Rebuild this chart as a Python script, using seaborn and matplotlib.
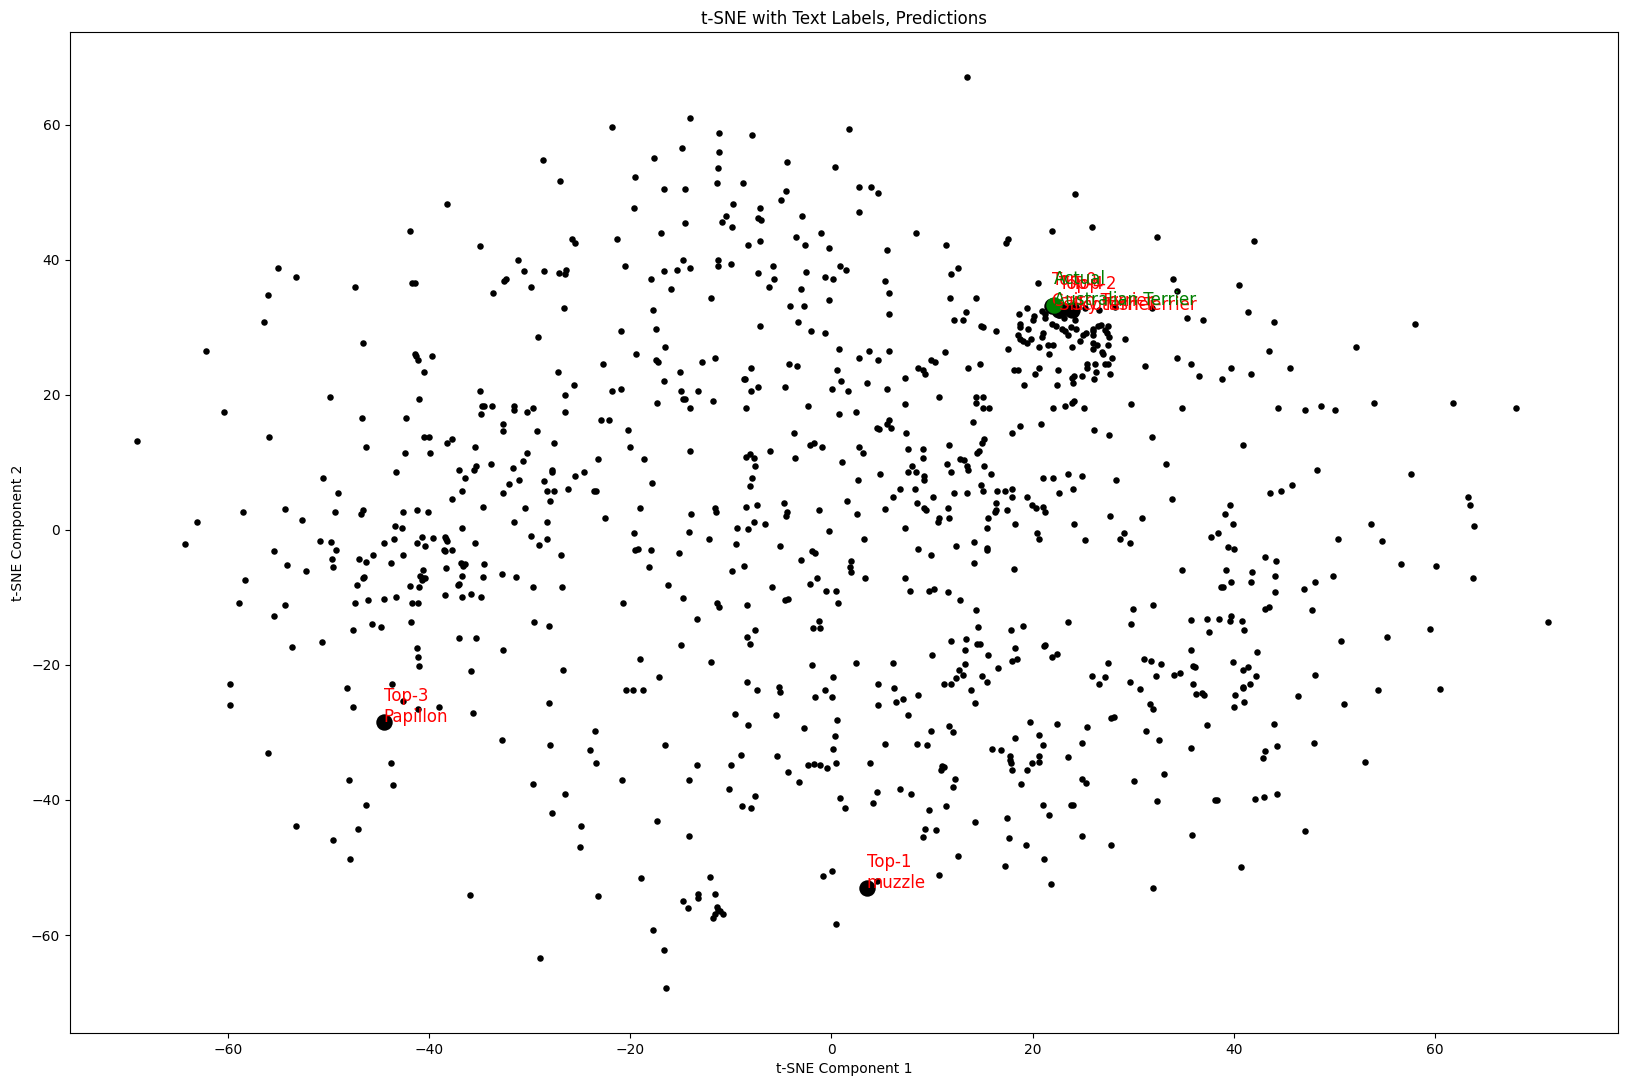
import pandas as pd
import seaborn as sns
import matplotlib
matplotlib.use("Agg")
import matplotlib.pyplot as plt

# t-SNE coordinates, by quadrant
upper_left = [
    (-14.1,60.9),(-21.8,59.7),(-11.2,58.8),(-7.9,58.4),(1.7,59.4),(-14.9,56.5),(-11.2,56.0),(-17.6,55.0),
    (-28.7,54.7),(-4.4,54.5),(-11.3,53.5),(0.4,53.7),(-19.5,52.3),(-27.0,51.7),(-11.4,51.4),(-8.8,51.4),
    (-16.6,50.4),(-14.6,50.5),(-4.5,50.1),(-5.0,48.9),(-38.2,48.2),(-9.8,48.3),(-19.6,47.6),(-7.1,47.7),
    (-10.5,46.4),(-2.9,46.5),(-7.3,46.1),(-7.0,45.8),(-10.9,45.5),(-14.6,45.4),(-9.9,44.9),(-41.9,44.2),
    (-16.9,44.0),(-1.0,44.0),(-3.5,43.4),(-25.8,43.1),(-21.3,43.0),(-7.1,42.8),(-25.5,42.4),(-8.3,42.1),
    (-2.6,42.2),(-34.9,42.0),(-0.2,41.7),(-31.2,40.0),(-14.8,39.9),(-11.3,40.0),(-10.0,39.3),(-11.3,39.0),
    (-20.5,39.0),(-14.1,38.7),(-5.8,39.0),(0.9,39.1),(1.4,38.4),(-55.0,38.8),(-30.6,38.3),(-28.6,38.3),
    (-26.4,38.5),(-27.1,38.0),(-26.5,37.8),(-16.6,38.3),(-15.4,38.4),(-7.3,38.0),(-2.5,38.1),(-53.2,37.5),
    (-0.6,37.4),(0.2,37.1),(-17.9,37.1),(-5.7,37.1),(-32.4,37.1),(-32.6,36.8),(-41.7,36.5),(-41.4,36.5),
    (-47.4,35.9),(-6.2,35.9),(-3.0,35.7),(-15.9,35.7),(-29.9,36.0),(-33.6,35.1),(-56.0,34.7),(-12.0,34.3),
    (-0.2,34.0),(-26.6,32.9),(-4.1,33.1),(-2.7,33.1),(-17.7,32.5),(-56.4,30.7),(-3.3,30.8),(-7.1,30.2),
    (-17.4,29.8),(-20.9,29.5),(-2.0,29.5),(-0.6,29.2),(-29.2,28.5),(-46.6,27.6),(-16.5,27.0),(0.8,26.8),
    (-62.2,26.4),(-41.4,26.1),(-41.3,25.8),(-39.7,25.7),(-41.1,25.2),(-19.4,26.1),(-17.4,25.1),(-17.2,24.8),
    (-11.6,25.4),(-12.9,24.9),(-22.7,24.5),(-4.2,24.5),(-3.4,24.3),(-8.0,23.9),(0.6,23.7),(-27.2,23.3),
    (-15.1,23.4),(-40.5,23.4),(-8.7,22.4),(-8.6,22.3),(-16.6,22.1),(1.0,22.1),(-25.6,21.4),(-7.3,21.1),
    (-4.6,21.2),(-21.8,20.6),(-20.9,20.8),(-34.9,20.5),(-15.0,20.5),(-13.3,20.6),(-8.0,20.5),(0.1,20.8),
    (1.6,20.5),(-26.5,20.0),(-49.9,19.7),(-41.0,19.3),(-14.8,19.4),(-14.6,19.3),(-17.3,18.8),(-11.8,19.1),
    (-34.7,18.3),(-34.5,18.3),(-33.7,18.4),(-31.6,18.3),(-31.6,17.8),(-29.7,18.1),(-30.3,17.5),(-34.8,17.2),
    (-26.5,17.4),(-14.1,18.1),(-8.5,18.0),(-2.3,18.4),(0.8,17.1),(-60.4,17.5),(-46.7,16.6),(-42.3,16.5),
    (-22.9,16.3),(-22.1,16.2),(-32.7,15.6),(-32.7,14.7),(-29.3,14.7),(-20.2,14.8),(-3.7,14.3),(-69.0,13.1),
    (-55.9,13.7),(-40.5,13.7),(-40.0,13.7),(-37.7,13.4),(-38.2,12.8),(-27.6,12.9),(-46.3,12.2),(-35.4,12.3),
    (-20.0,12.2),(-2.1,12.5),(-1.7,12.8),(-0.9,12.2),(-42.4,11.4),(-39.9,11.3),(-30.3,11.4),(-14.1,11.6),
    (-6.1,11.6),(-8.5,10.8),(-8.1,11.2),(-7.7,10.7),(-3.6,10.7),(-23.2,10.5),(-18.6,10.5),(-30.7,10.2),
    (-33.8,9.7),(-31.7,9.2),(1.1,10.0),(-7.6,9.5),(-35.3,9.4),(-35.5,8.8),(-37.0,8.8),(-43.3,8.6),
    (-27.8,8.8),(-27.8,8.5),(-24.6,8.6),(-25.5,7.9),(-36.4,7.6),(-50.5,7.6),(-31.1,7.4),(-28.6,7.2),
    (-17.8,7.0),(-7.9,7.6),(-32.1,6.8),(-8.1,6.5),(-49.1,5.4),(-36.7,5.8),(-32.7,5.5),(-28.3,5.7),
    (-27.6,5.8),(-26.2,6.0),(-23.6,5.7),(-23.4,5.8),(-37.7,4.6),(-28.0,4.2),(1.5,4.2),(-34.6,3.4),
    (-30.5,3.3),(-19.0,3.3),(-11.6,3.3),(-8.5,3.4),(-7.4,3.7),(-4.7,4.0),(-11.5,2.6),(-4.4,2.7),
    (-4.5,2.1),(-1.2,2.9),(-14.0,2.3),(-58.5,2.7),(-54.3,3.1),(-49.4,2.7),(-46.6,2.9),(-46.8,2.4),
    (-42.6,2.6),(-41.2,3.0),(-40.1,2.7),(-63.1,1.2),(-52.6,1.4),(-31.6,1.1),(-28.3,1.2),(-22.5,1.7),
    (-7.7,1.2),(-6.6,0.8),(-43.4,0.6),(-42.7,0.2),(-36.7,0.3),(-9.4,0.3),(-8.3,0.1),
]

upper_right = [
    (13.5,67.0),(2.7,50.8),(3.9,50.7),(4.6,49.8),(24.2,49.7),(2.7,47.1),(25.9,44.8),(8.4,44.0),
    (21.9,44.2),(32.4,43.3),(42.0,42.7),(17.6,43.1),(17.4,42.5),(11.4,42.1),(5.5,41.4),(12.6,38.8),
    (11.9,37.8),(5.3,36.8),(20.5,36.6),(34.0,37.1),(40.5,36.3),(34.4,35.4),(5.7,35.1),(11.8,34.3),
    (14.4,34.3),(26.6,32.6),(31.9,32.8),(28.2,33.0),(13.4,32.3),(19.4,32.8),(18.6,32.0),(20.1,31.7),
    (21.2,31.9),(21.2,31.4),(5.7,32.0),(41.4,32.2),(35.4,31.4),(36.9,31.1),(12.2,31.0),(13.1,31.1),
    (20.0,31.0),(23.1,31.3),(24.2,31.1),(44.0,30.8),(58.0,30.4),(14.9,30.1),(15.1,30.0),(18.7,30.4),
    (18.7,30.0),(19.5,29.8),(21.9,30.4),(22.3,30.1),(23.8,30.0),(24.3,29.7),(22.9,29.7),(23.2,29.4),
    (23.5,28.9),(16.4,29.4),(26.0,29.8),(26.5,30.1),(26.8,30.3),(27.5,30.1),(25.0,28.9),(25.3,29.2),
    (26.0,29.4),(26.0,28.9),(27.2,29.6),(27.4,29.1),(27.6,28.5),(18.5,28.9),(21.0,29.1),(20.9,28.6),
    (29.2,28.3),(18.7,28.2),(19.0,28.0),(19.4,27.6),(19.8,28.2),(24.7,27.9),(21.5,27.4),(22.0,27.3),
    (20.6,27.1),(23.9,27.1),(17.6,26.8),(26.0,27.6),(26.4,27.3),(26.0,26.8),(27.5,27.3),(11.3,26.3),
    (5.7,26.4),(3.7,26.4),(2.7,25.4),(4.6,25.2),(9.9,25.2),(10.3,24.9),(26.9,26.3),(21.6,26.0),
    (27.0,26.0),(27.9,25.4),(52.2,27.0),(43.5,26.5),(34.4,25.5),(35.7,24.5),(39.7,24.0),(31.2,24.3),
    (26.2,24.6),(25.4,24.5),(25.4,24.0),(27.2,24.5),(27.5,24.5),(14.8,24.5),(13.6,23.9),(8.6,23.9),
    (9.1,23.7),(9.3,23.0),(18.2,23.6),(18.5,23.6),(20.6,23.9),(22.5,23.6),(20.2,23.0),(26.3,23.3),
    (27.7,23.0),(24.9,22.8),(23.9,22.5),(24.1,22.7),(26.1,22.4),(7.3,22.5),(41.7,23.0),(36.5,22.7),
    (38.8,22.3),(45.6,23.9),(24.0,21.8),(3.5,21.8),(22.4,21.5),(19.1,21.4),(5.5,20.9),(10.7,19.6),
    (14.4,19.6),(15.1,19.6),(14.4,18.7),(7.3,18.6),(2.4,17.4),(15.1,18.0),(15.7,18.0),(22.0,18.1),
    (23.2,18.3),(23.9,18.7),(24.1,19.1),(25.1,18.0),(29.8,18.6),(34.9,18.1),(44.4,18.1),(47.1,17.7),
    (48.7,18.4),(50.1,17.8),(53.9,18.8),(61.8,18.8),(68.1,18.0),(5.7,16.3),(5.5,15.7),(5.9,15.1),
    (4.5,15.1),(4.7,14.9),(7.4,14.4),(14.1,16.0),(18.7,15.3),(18.0,14.4),(20.8,15.6),(26.1,14.8),
    (27.6,14.0),(31.9,13.8),(40.9,12.6),(15.2,13.5),(15.0,12.9),(11.7,12.5),(2.7,12.3),(3.1,11.3),
    (7.6,12.0),(9.1,12.0),(9.1,10.7),(14.5,11.4),(14.7,11.6),(12.8,10.5),(13.2,10.3),(11.5,9.7),
    (13.5,9.5),(13.6,8.8),(8.0,9.5),(15.2,9.5),(7.6,8.6),(8.4,8.6),(4.8,8.3),(11.9,8.6),
    (15.9,8.2),(9.2,8.0),(9.2,7.3),(2.6,7.4),(21.0,7.7),(22.0,7.7),(23.5,8.2),(24.9,8.0),
    (28.3,7.3),(33.3,9.8),(48.3,8.9),(57.6,8.3),(45.8,6.7),(44.7,5.8),(43.6,5.4),(63.3,4.9),
    (63.5,3.6),(63.9,0.5),(33.9,4.6),(39.6,3.6),(39.1,2.3),(39.9,0.9),(53.6,0.9),(30.9,1.7),
    (27.7,2.0),(24.1,0.9),(6.8,6.1),(8.3,6.0),(6.1,4.8),(10.1,4.9),(12.2,5.5),(13.5,5.4),
    (14.9,6.7),(15.1,5.7),(16.5,5.7),(17.3,5.8),(18.0,6.1),(18.0,4.8),(19.4,4.9),(22.6,5.5),
    (24.0,6.0),(8.5,3.9),(9.2,3.3),(9.4,2.9),(5.3,3.1),(11.6,3.3),(16.4,3.9),(16.4,3.0),
    (16.3,2.7),(17.5,2.9),(19.9,3.6),(20.3,3.3),(21.0,3.4),(21.2,2.6),(2.5,2.3),(11.7,1.8),
    (10.7,1.7),(10.6,1.2),(15.6,1.7),(18.3,0.9),(7.3,0.3),(15.5,0.3),
]

lower_left = [
    (-0.2,-0.2),(-19.6,-0.4),(-14.2,-0.3),(-64.3,-2.1),(-50.8,-1.6),(-49.8,-1.8),(-49.3,-3.0),(-55.4,-3.1),
    (-49.7,-4.3),(-49.6,-5.5),(-54.1,-5.2),(-52.2,-6.1),(-58.3,-7.4),(-58.9,-10.8),(-54.3,-11.1),(-55.4,-12.7),
    (-53.6,-17.3),(-50.6,-16.6),(-47.6,-14.8),(-45.7,-13.9),(-44.8,-14.4),(-41.8,-13.6),(-47.4,-10.8),(-46.1,-10.4),
    (-44.5,-10.2),(-43.3,-9.9),(-41.7,-10.9),(-41.1,-10.9),(-47.2,-8.1),(-46.6,-7.2),(-46.5,-7.0),(-41.9,-8.3),
    (-41.0,-8.4),(-40.6,-7.2),(-40.9,-6.9),(-40.4,-7.2),(-40.7,-7.5),(-40.6,-5.9),(-43.8,-4.9),(-42.6,-3.8),
    (-45.6,-3.7),(-47.0,-4.3),(-46.3,-4.7),(-44.5,-1.9),(-43.5,-1.3),(-41.2,-1.9),(-40.7,-1.0),(-40.4,-2.4),
    (-39.6,-1.2),(-38.4,-1.0),(-38.3,-1.3),(-38.2,-1.6),(-37.7,-3.0),(-38.5,-3.0),(-38.4,-3.1),(-35.4,-1.9),
    (-36.8,-4.9),(-36.4,-5.0),(-36.6,-5.3),(-34.5,-5.0),(-38.3,-5.6),(-36.7,-6.8),(-34.6,-7.0),(-32.8,-6.5),
    (-31.4,-7.0),(-37.1,-8.1),(-37.0,-8.0),(-29.7,-8.4),(-26.8,-8.4),(-38.4,-9.6),(-35.8,-9.5),(-36.7,-9.9),
    (-34.8,-9.9),(-29.9,-0.9),(-28.3,-1.3),(-29.1,-2.2),(-26.9,-3.7),(-19.5,-3.0),(-19.2,-2.8),(-17.9,-3.0),
    (-15.2,-3.5),(-12.2,-1.3),(-9.5,-2.1),(-5.1,-2.4),(-18.1,-5.5),(-16.2,-8.1),(-14.8,-10.1),(-20.7,-10.9),
    (-11.4,-10.8),(-11.2,-11.4),(-8.4,-11.1),(-13.4,-13.2),(-9.9,-6.1),(-8.7,-5.3),(-3.0,-4.4),(-1.9,-3.1),
    (-1.6,-3.5),(-1.4,-7.1),(-2.1,-8.0),(-5.9,-8.4),(-4.6,-10.4),(-4.3,-10.2),(-0.5,-9.0),(0.5,-9.0),
    (0.7,-10.9),(-1.2,-13.5),(-1.8,-14.5),(-1.1,-14.5),(-7.6,-14.8),(-8.4,-15.8),(-8.1,-16.9),(-15.0,-17.0),
    (-29.6,-13.6),(-28.1,-14.2),(-37.0,-16.0),(-35.3,-16.0),(-32.7,-17.8),(-41.2,-17.5),(-41.1,-18.8),(-41.0,-20.1),
    (-35.8,-20.9),(-26.7,-20.7),(-19.0,-19.1),(-12.0,-19.5),(-1.9,-20.0),(0.2,-21.8),(-8.4,-22.5),(-17.1,-21.8),
    (-20.4,-23.7),(-19.7,-23.7),(-18.7,-23.7),(-7.4,-23.7),(-5.2,-23.2),(-5.1,-24.0),(-0.6,-23.7),(-1.6,-24.7),
    (0.1,-24.7),(-59.8,-22.9),(-59.8,-25.9),(-48.2,-23.4),(-43.7,-22.9),(-47.6,-26.2),(-42.6,-25.4),(-41.1,-26.6),
    (-39.0,-26.2),(-35.6,-27.1),(-28.1,-25.6),(-9.6,-27.2),(-5.5,-27.4),(-8.3,-28.9),(0.6,-28.1),(-2.7,-29.3),
    (0.4,-30.5),(-23.5,-29.8),(-32.8,-31.1),(-28.0,-31.8),(-16.5,-31.8),(0.2,-32.4),(-24.0,-32.6),(-56.0,-33.0),
    (-43.8,-34.5),(-23.4,-34.5),(-9.0,-33.3),(-5.4,-33.5),(-13.4,-34.8),(-10.0,-34.8),(-2.3,-34.8),(-1.7,-34.7),
    (-1.1,-34.8),(-0.4,-35.3),(0.5,-34.5),(-4.3,-35.8),(-3.2,-37.3),(-48.0,-37.0),(-43.6,-37.8),(-20.8,-37.0),
    (-14.2,-37.0),(-29.7,-37.6),(-10.2,-38.4),(-26.5,-39.1),(-7.6,-39.4),(0.9,-39.7),(-8.9,-40.9),(-8.0,-41.2),
    (1.3,-41.2),(-46.3,-40.7),(-27.8,-42.0),(-17.3,-43.1),(-53.2,-43.8),(-47.1,-44.3),(-24.9,-43.8),(-14.2,-45.3),
    (-49.6,-45.9),(-25.0,-46.9),(-47.9,-48.7),(0.1,-50.5),(-0.8,-51.2),(-18.9,-51.5),(-12.1,-51.4),(-35.9,-54.1),
    (-23.2,-54.2),(-13.3,-53.9),(-13.3,-54.5),(-11.6,-53.9),(-14.8,-54.9),(-14.3,-56.0),(-11.4,-55.9),(-11.3,-56.3),
    (-11.1,-56.4),(-10.8,-56.9),(-11.8,-57.4),(-11.6,-56.9),(0.5,-58.4),(-17.7,-59.2),(-16.6,-62.2),(-29.0,-63.4),
    (-16.4,-67.8),
]

lower_right = [
    (20.4,-0.4),(20.6,-1.3),(29.1,-0.4),(28.7,-1.3),(29.7,-1.9),(25.2,-1.5),(38.4,-0.4),(37.7,-1.0),
    (39.4,-2.5),(40.0,-2.8),(50.4,-1.3),(54.7,-1.6),(56.6,-5.0),(60.1,-5.3),(63.8,-7.1),(3.2,-1.3),
    (8.6,-2.8),(9.9,-3.8),(12.4,-2.4),(14.2,-1.8),(15.5,-2.7),(15.5,-3.0),(14.2,-4.9),(1.9,-4.6),
    (1.8,-5.5),(1.9,-6.2),(18.2,-5.8),(3.3,-7.2),(7.3,-7.1),(7.8,-9.0),(9.7,-9.0),(10.2,-8.7),
    (11.6,-9.2),(12.8,-10.4),(14.4,-11.8),(34.9,-5.9),(39.2,-5.9),(41.8,-6.2),(43.1,-4.1),(44.2,-4.6),
    (44.1,-6.8),(41.7,-7.8),(39.7,-7.8),(38.7,-8.4),(38.9,-8.4),(44.1,-9.2),(49.9,-6.9),(48.1,-7.8),
    (47.0,-8.7),(47.8,-11.8),(43.1,-11.7),(43.5,-11.4),(30.0,-11.7),(32.0,-11.1),(39.7,-12.7),(35.7,-13.3),
    (37.3,-13.2),(38.5,-13.2),(39.6,-13.5),(40.8,-13.5),(41.0,-14.9),(37.5,-15.2),(29.8,-13.9),(23.5,-13.6),
    (19.0,-14.2),(17.9,-14.9),(14.6,-14.4),(59.5,-14.7),(71.2,-13.6),(55.2,-15.8),(50.7,-16.4),(11.9,-16.4),
    (13.4,-16.1),(14.5,-16.9),(14.8,-16.9),(18.3,-17.5),(13.3,-17.8),(21.1,-17.2),(21.2,-17.0),(15.6,-18.5),
    (10.0,-18.6),(22.4,-18.4),(21.9,-18.8),(18.0,-19.4),(18.4,-19.2),(2.4,-19.7),(6.1,-19.7),(13.3,-19.8),
    (12.7,-20.7),(16.6,-20.4),(12.4,-21.9),(13.1,-21.5),(15.0,-21.6),(15.5,-22.5),(11.2,-22.8),(11.9,-22.8),
    (13.9,-23.7),(4.6,-22.8),(6.2,-23.4),(7.1,-25.0),(6.4,-25.5),(8.6,-24.4),(4.6,-25.9),(14.3,-25.6),
    (7.6,-27.4),(27.5,-19.7),(25.9,-21.6),(27.2,-21.8),(26.6,-22.8),(29.7,-22.5),(30.7,-23.5),(31.1,-19.2),
    (31.8,-19.4),(32.8,-19.8),(32.3,-21.6),(34.1,-21.5),(34.7,-21.2),(35.7,-17.8),(35.9,-20.1),(36.1,-20.3),
    (35.9,-22.9),(36.2,-24.3),(36.8,-24.1),(37.0,-24.4),(39.9,-19.5),(42.3,-18.1),(41.4,-20.3),(40.9,-20.7),
    (42.2,-21.6),(41.6,-22.9),(40.9,-23.2),(40.9,-23.4),(40.1,-24.4),(41.0,-25.5),(40.0,-26.2),(48.1,-21.5),
    (46.4,-24.6),(51.0,-25.8),(54.3,-23.7),(60.5,-23.5),(31.7,-25.8),(32.0,-26.6),(27.8,-27.8),(28.1,-27.7),
    (19.7,-28.4),(22.4,-28.7),(25.4,-29.2),(37.3,-28.9),(44.0,-28.7),(31.3,-29.8),(32.6,-31.1),(11.7,-29.0),
    (12.1,-29.9),(9.9,-29.8),(5.3,-31.7),(8.5,-31.7),(9.5,-31.8),(18.3,-30.8),(20.6,-30.4),(21.0,-31.8),
    (24.9,-31.5),(16.0,-32.4),(16.9,-32.6),(17.8,-33.5),(17.8,-34.1),(17.9,-34.5),(20.6,-33.5),(20.6,-34.4),
    (19.9,-34.5),(23.5,-33.6),(35.7,-32.3),(43.1,-32.7),(42.9,-33.8),(44.3,-32.0),(48.0,-31.5),(53.0,-34.4),
    (3.8,-34.5),(11.0,-35.0),(11.2,-35.1),(10.9,-35.5),(18.0,-35.5),(19.4,-35.5),(12.3,-36.9),(12.1,-38.1),
    (18.8,-37.6),(24.9,-36.9),(25.3,-37.5),(30.1,-37.2),(33.1,-36.1),(6.8,-38.4),(7.9,-39.1),(4.5,-38.8),
    (4.1,-40.4),(9.7,-41.5),(11.4,-40.9),(21.0,-40.7),(21.6,-42.2),(23.8,-40.7),(24.0,-40.7),(32.4,-40.1),
    (38.1,-40.0),(38.3,-40.0),(42.1,-39.8),(43.0,-39.5),(44.3,-39.1),(17.5,-42.7),(14.3,-43.2),(9.3,-44.3),
    (10.4,-44.4),(9.1,-45.5),(17.7,-45.6),(19.3,-46.6),(24.9,-45.3),(27.8,-46.6),(35.8,-45.2),(47.1,-44.6),
    (12.6,-48.3),(21.1,-48.7),(17.3,-49.8),(40.7,-49.9),(10.7,-51.1),(21.8,-52.4),(32.0,-53.0),(4.5,-52.0),
]

cluster_extra = [(23.2,32.2),(22.6,31.8),(24.2,31.9),(25.2,32.9),(20.9,32.4)]

# highlighted images
top_x = [3.5, 23.9, 22.6, 21.9, -44.5]
top_y = [-53.0, 32.6, 32.6, 33.1, -28.4]
top_labels = ["Top-1\nmuzzle", "Top-2\nScottish Terrier", "Top-4\nSilky Terrier", "Top-0\nCairn Terrier", "Top-3\nPapillon"]
actual_x = [22.1]
actual_y = [33.3]
actual_label = "Actual\nAustralian Terrier"

all_points = upper_left + upper_right + lower_left + lower_right + cluster_extra
df = pd.DataFrame(all_points, columns=["x", "y"])

fig, ax = plt.subplots(figsize=(16.28, 10.86), dpi=100)
sns.scatterplot(data=df, x="x", y="y", color="black", s=22, linewidth=0, ax=ax)
sns.scatterplot(x=top_x, y=top_y, color="black", s=140, linewidth=0, ax=ax)
sns.scatterplot(x=actual_x, y=actual_y, color="green", s=140, linewidth=0, ax=ax, zorder=3)

for tx, ty, label in zip(top_x, top_y, top_labels):
    ax.text(tx, ty, label, color="red", fontsize=12)
ax.text(actual_x[0], actual_y[0], actual_label, color="green", fontsize=12)

ax.set_xlim(-75.7, 78.2)
ax.set_ylim(-74.5, 73.7)
ax.set_title("t-SNE with Text Labels, Predictions")
ax.set_xlabel("t-SNE Component 1")
ax.set_ylabel("t-SNE Component 2")
fig.subplots_adjust(left=70 / 1628, right=1618 / 1628, top=1 - 32 / 1086, bottom=1 - 1033 / 1086)
fig.savefig("out.png", dpi=100)
